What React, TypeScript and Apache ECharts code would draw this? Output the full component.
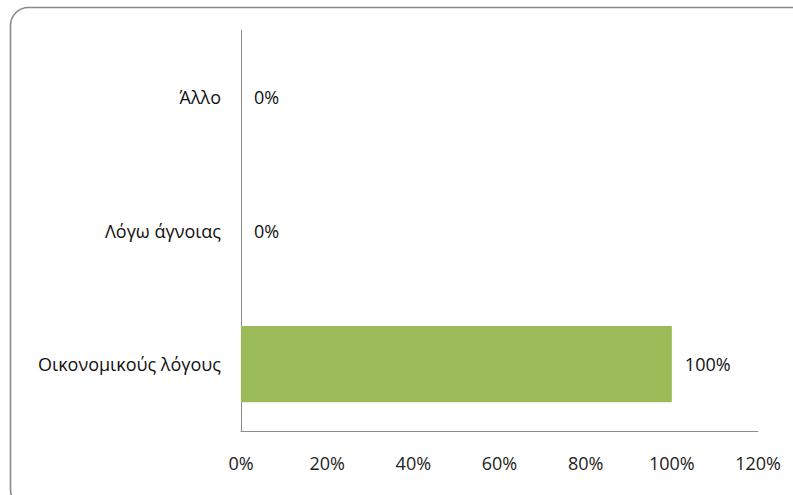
import React, { useEffect, useRef } from "react";
import * as echarts from "echarts";

const categories = ["Οικονομικούς λόγους", "Λόγω άγνοιας", "Άλλο"];
const values = [100, 0, 0];
const xTicks = [0, 20, 40, 60, 80, 100, 120];

const FONT = "'Open Sans', 'Noto Sans', sans-serif";

export default function App() {
  const ref = useRef<HTMLDivElement>(null);
  useEffect(() => {
    if (!ref.current) return;
    const chart = echarts.init(ref.current, null, { renderer: "svg" });
    chart.setOption({
      animation: false,
      backgroundColor: "#ffffff",
      textStyle: { fontFamily: FONT },
      graphic: [
        {
          type: "rect",
          shape: { x: 10.5, y: 7.5, width: 800, height: 500, r: 18 },
          style: { fill: "none", stroke: "#8a8a8a", lineWidth: 1.6 },
          silent: true,
          z: 100,
        },
      ],
      grid: { left: 241, right: 35, top: 30, bottom: 64, containLabel: false },
      xAxis: {
        type: "value",
        min: xTicks[0],
        max: xTicks[xTicks.length - 1],
        interval: 20,
        axisLine: { show: true, lineStyle: { color: "#8c8c8c", width: 1 } },
        axisTick: { show: false },
        splitLine: { show: false },
        axisLabel: {
          formatter: (v: number) => v + "%",
          color: "#222",
          fontSize: 18,
          fontFamily: FONT,
          margin: 23,
        },
      },
      yAxis: {
        type: "category",
        data: categories,
        axisLine: { show: true, lineStyle: { color: "#8c8c8c", width: 1 } },
        axisTick: { show: false },
        axisLabel: { color: "#111", fontSize: 18, fontFamily: FONT, margin: 20 },
        splitLine: { show: false },
      },
      series: [
        {
          type: "bar",
          data: values,
          barWidth: "57%",
          itemStyle: { color: "#9BBB59" },
          label: {
            show: true,
            position: "right",
            distance: 13,
            formatter: (p: any) => p.value + "%",
            color: "#111",
            fontSize: 18,
            fontFamily: FONT,
          },
        },
      ],
    });
    return () => chart.dispose();
  }, []);
  return <div ref={ref} style={{ width: 793, height: 495, position: "absolute", left: 0, top: 0 }} />;
}
